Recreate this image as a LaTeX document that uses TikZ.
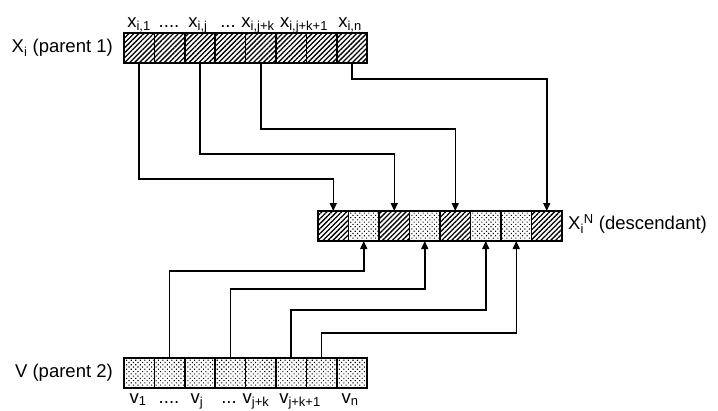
\documentclass[tikz,border=0pt]{standalone}
\usepackage{fontspec}
\setmainfont{Liberation Sans}
\usetikzlibrary{arrows.meta,patterns.meta}
\begin{document}
\begin{tikzpicture}[x=1pt,y=-1pt,
  cellbase/.style={draw,line width=1.5pt,minimum width=30.4pt,minimum height=30pt,inner sep=0pt,outer sep=0pt},
  hcell/.style={cellbase,pattern={Lines[angle=45,distance=3.5pt,line width=1.3pt]}},
  dcell/.style={cellbase,pattern={Dots[radius=0.75pt,distance=3.2pt,angle=45]}},
  lbl/.style={inner sep=0pt,font=\fontsize{18.5}{22}\selectfont},
  conn/.style={line width=1.5pt,-{Triangle[length=8pt,width=7pt]}}]
\useasboundingbox (0,0) rectangle (718,410);
% parent 1
\foreach \i in {1,...,8}{
  \node[hcell] (p\i) at ({124+15.2+30.4*(\i-1)},48) {};
}
% parent 2
\foreach \i in {1,...,8}{
  \node[dcell] (q\i) at ({124+15.2+30.4*(\i-1)},373) {};
}
% descendant
\foreach \i/\s in {1/hcell,2/dcell,3/hcell,4/dcell,5/hcell,6/dcell,7/dcell,8/hcell}{
  \node[\s,minimum width=30.5pt] (d\i) at ({318+15.25+30.5*(\i-1)},226) {};
}
% labels
\node[lbl,anchor=east] (lp1) at (113,48) {X\textsubscript{i} (parent 1)};
\node[lbl,anchor=east] (lp2) at (113,373) {V (parent 2)};
\node[lbl,anchor=west] (ld) at (568,224) {X\textsubscript{i}\textsuperscript{N} (descendant)};
\node[lbl,anchor=base] (t1) at (139,27) {x\textsubscript{i,1}};
\node[lbl,anchor=base] (t2) at (169,27) {....};
\node[lbl,anchor=base] (t3) at (198,27) {x\textsubscript{i,j}};
\node[lbl,anchor=base] (t4) at (228,27) {...};
\node[lbl,anchor=base] (t5) at (258,27) {x\textsubscript{i,j+k}};
\node[lbl,anchor=base] (t6) at (304,27) {x\textsubscript{i,j+k+1}};
\node[lbl,anchor=base] (t7) at (350,27) {x\textsubscript{i,n}};
\node[lbl,anchor=base] (b1) at (138,403) {v\textsubscript{1}};
\node[lbl,anchor=base] (b2) at (169,403) {....};
\node[lbl,anchor=base] (b3) at (197,403) {v\textsubscript{j}};
\node[lbl,anchor=base] (b4) at (229,403) {...};
\node[lbl,anchor=base] (b5) at (256,403) {v\textsubscript{j+k}};
\node[lbl,anchor=base] (b6) at (300,403) {v\textsubscript{j+k+1}};
\node[lbl,anchor=base] (b7) at (350,403) {v\textsubscript{n}};
% connectors parent 1 -> descendant
\draw[conn] (p1.south) -- ++(0,116) -| (d1.north);
\draw[conn] (p3.south) -- ++(0,91) -| (d3.north);
\draw[conn] (p5.south) -- ++(0,66) -| (d5.north);
\draw[conn] (p8.south) -- ++(0,16) -| (d8.north);
% connectors parent 2 -> descendant
\draw[conn] (q2.north) -- ++(0,-87) -| (d2.south);
\draw[conn] (q4.north) -- ++(0,-69) -| (d4.south);
\draw[conn] (q6.north) -- ++(0,-48) -| (d6.south);
\draw[conn] (q7.north) -- ++(0,-25) -| (d7.south);
\end{tikzpicture}
\end{document}
